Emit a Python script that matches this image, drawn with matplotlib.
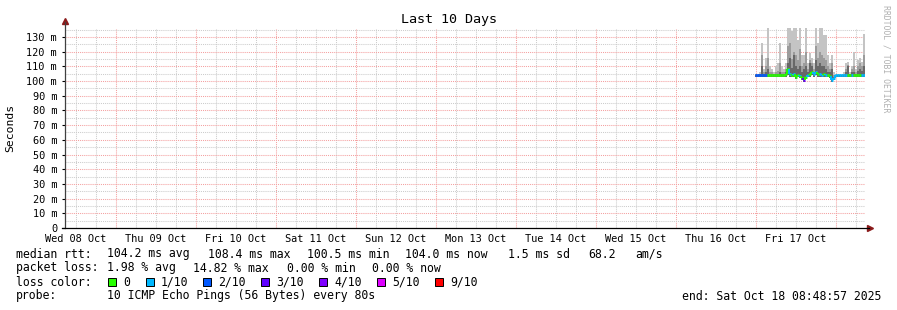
import numpy as np
import pandas as pd
import matplotlib
matplotlib.use("Agg")
import matplotlib.pyplot as plt
import matplotlib.dates as mdates
from datetime import datetime, timedelta

# ---- data (ms), one sample every 36 min starting just before Oct 17
median_ms = [104.0, 104.0, 104.2, 104.3, 104.2, 104.1, 104.0, 104.0, 104.0, 104.0,
             104.0, 104.0, 104.0, 104.0, 104.0, 104.5, 108.0, 105.0, 104.0, 104.5,
             103.0, 104.0, 103.5, 102.0, 100.5, 103.0, 104.0, 105.0, 106.0, 105.0,
             106.0, 105.0, 105.0, 104.0, 105.0, 104.0, 104.0, 103.5, 100.5, 102.0,
             104.0, 104.0, 104.0, 104.0, 104.0, 104.0, 104.0, 104.0, 104.0, 104.0,
             104.0, 104.0, 104.0, 104.0, 104.0]
loss_cnt = [2, 2, 2, 2, 2, 2, 0, 0, 0, 0, 0, 0, 0, 0, 0, 0, 0, 1, 0, 1,
            0, 0, 1, 0, 3, 0, 1, 0, 0, 1, 1, 0, 1, 1, 0, 1, 0, 0, 1, 1,
            1, 1, 1, 1, 1, 1, 0, 0, 1, 0, 0, 0, 0, 1, 1]
smoke_hi = [105, 105, 106, 126, 108, 116, 136, 110, 108, 106, 110, 112, 126, 110, 108,
            112, 136, 136, 134, 136, 136, 128, 136, 118, 118, 136, 112, 119, 116, 112,
            136, 126, 136, 136, 131, 131, 118, 112, 118, 106, 105, 105, 105, 105, 106,
            112, 113, 106, 110, 120, 108, 114, 116, 113, 132]
smoke_mid = [104.5, 104.5, 105, 118, 106, 110, 116, 106, 106, 105, 106, 107, 112, 106, 106,
             108, 124, 126, 115, 120, 118, 114, 122, 110, 112, 120, 108, 114, 112, 108,
             124, 116, 120, 118, 116, 114, 110, 108, 112, 104, 104, 104, 104, 104, 105,
             108, 111, 105, 108, 110, 106, 110, 112, 110, 118]
smoke_dark = [104, 104, 104.5, 110, 105, 106, 108, 105, 105, 104.5, 105, 105, 106, 105, 105,
              106, 112, 116, 109, 118, 110, 108, 110, 106, 108, 110, 106, 112, 110, 106,
              114, 110, 112, 110, 110, 108, 106, 106, 108, 103, 104, 104, 104, 104, 104,
              106, 110, 104.5, 106, 106, 105, 107, 108, 107, 110]
smoke_lo = [103, 103, 103, 103, 103, 103, 103, 103, 103, 103, 103, 103, 103, 103, 103,
            103, 104, 103, 102.5, 103, 101.5, 102.5, 102, 100.5, 99.5, 101.5, 102.5, 103, 104, 103,
            104, 103, 103, 102.5, 103, 102.5, 102.5, 102, 99.5, 100.5, 103, 103, 103, 103, 103,
            103, 103, 103, 103, 103, 103, 103, 103, 103, 103]

loss_labels = ["0", "1/10", "2/10", "3/10", "4/10", "5/10", "9/10"]
loss_colors = ["#26ff00", "#00b8ff", "#0059ff", "#5e00ff", "#7e00ff", "#dd00ff", "#ff0000"]
ytick_vals = list(range(0, 131, 10))
day_names = ["Wed 08 Oct", "Thu 09 Oct", "Fri 10 Oct", "Sat 11 Oct", "Sun 12 Oct",
             "Mon 13 Oct", "Tue 14 Oct", "Wed 15 Oct", "Thu 16 Oct", "Fri 17 Oct"]

end = datetime(2025, 10, 18, 8, 48, 57)
start = end - timedelta(days=10)
t_first = datetime(2025, 10, 16, 23, 42)
step = timedelta(minutes=36)
times = pd.date_range(t_first, periods=len(median_ms), freq="36min")

W, H = 897, 310
fig = plt.figure(figsize=(W / 100, H / 100), dpi=100)
fig.patch.set_facecolor("white")
ax = fig.add_axes([65.4 / W, 82 / H, 800 / W, 200 / H])
ax.set_xlim(mdates.date2num(start), mdates.date2num(end))
ax.set_ylim(0, 136.1)

mono = "DejaVu Sans Mono"

# smoke
x = mdates.date2num(times)
wd = step / timedelta(days=1)
lo = np.array(smoke_lo)
ax.bar(x, np.array(smoke_hi) - lo, bottom=lo, width=wd, align="edge", color="#c4c4c4", lw=0, zorder=2)
ax.bar(x, np.array(smoke_mid) - lo, bottom=lo, width=wd, align="edge", color="#9c9c9c", lw=0, zorder=2)
ax.bar(x, np.array(smoke_dark) - lo, bottom=lo, width=wd, align="edge", color="#686868", lw=0, zorder=2)

# median line coloured by loss
cols = [loss_colors[[0, 1, 2, 3, 4, 5, 9].index(c)] for c in loss_cnt]
ax.hlines(median_ms, x, x + wd, colors=cols, lw=2.0, zorder=4)
ax.vlines(x[1:], median_ms[:-1], median_ms[1:], colors=cols[1:], lw=1.4, zorder=4)

# grid
day0 = datetime(2025, 10, 9)
for k in range(-1, 10):
    for h in (6, 12, 18):
        ax.axvline(mdates.date2num(day0 + timedelta(days=k, hours=h)), color="#cccccc",
                   lw=0.75, ls=(0, (1, 1)), zorder=1)
    if k >= 0:
        ax.axvline(mdates.date2num(day0 + timedelta(days=k)), color="#f4a0a0",
                   lw=0.75, ls=(0, (1, 1)), zorder=1)
for v in range(5, 136, 10):
    ax.axhline(v, color="#cccccc", lw=0.75, ls=(0, (1, 1)), zorder=1)
for v in ytick_vals[1:]:
    ax.axhline(v, color="#f4a0a0", lw=0.75, ls=(0, (1, 1)), zorder=1)

for s in ax.spines.values():
    s.set_visible(False)
ax.plot([0, 0], [0, 1.03], transform=ax.transAxes, color="#404040", lw=0.9, clip_on=False, zorder=5)
ax.plot([-0.004, 1.004], [0, 0], transform=ax.transAxes, color="black", lw=0.9, clip_on=False, zorder=5)
ax.plot([0], [1.035], marker="^", ms=4, color="#8b1a1a", transform=ax.transAxes, clip_on=False)
ax.plot([1.006], [0], marker=">", ms=4, color="#8b1a1a", transform=ax.transAxes, clip_on=False)

ax.set_yticks(ytick_vals)
ax.set_yticklabels(["0"] + [f"{v} m" for v in ytick_vals[1:]], fontfamily=mono, fontsize=7.4)
noons = [mdates.date2num(datetime(2025, 10, 8, 12) + timedelta(days=k)) for k in range(10)]
ax.set_xticks(noons)
ax.set_xticklabels(day_names, fontfamily=mono, fontsize=7.4)
ax.tick_params(axis="y", length=2, pad=4)
ax.tick_params(axis="x", length=0, pad=4)
ax.set_ylabel("Seconds", fontfamily=mono, fontsize=8.2, labelpad=8)
fig.text(448.5 / W, 1 - 19 / H, "Last 10 Days", ha="center", va="center",
         fontfamily=mono, fontsize=9.6)

fig.text(886 / W, 1 - 5 / H, "RRDTOOL / TOBI OETIKER", rotation=270, ha="center", va="top",
         fontfamily=mono, fontsize=5.9, color="#b0b0b0")

def put(px, py, s, **kw):
    fig.text(px / W, 1 - py / H, s, fontfamily=mono, fontsize=8.3, va="center", **kw)

put(16, 254, "median rtt:")
for px, s in [(107, "104.2 ms avg"), (208, "108.4 ms max"), (307, "100.5 ms min"),
              (405, "104.0 ms now"), (508, "1.5 ms sd"), (588, "68.2"), (635, "am/s")]:
    put(px, 254, s)
put(16, 268, "packet loss:")
for px, s in [(107, "1.98 % avg"), (193, "14.82 % max"), (287, "0.00 % min"), (372, "0.00 % now")]:
    put(px, 268, s)
put(16, 282, "loss color:")
sq_x = [108, 146, 203, 261, 319, 377, 435]
for px, lab, c in zip(sq_x, loss_labels, loss_colors):
    fig.patches.append(plt.Rectangle((px / W, 1 - 286 / H), 8 / W, 8 / H, transform=fig.transFigure,
                                     facecolor=c, edgecolor="black", lw=0.7))
    put(px + 15, 282, lab)
put(16, 296, "probe:")
put(107, 296, "10 ICMP Echo Pings (56 Bytes) every 80s")
put(881, 296, "end: Sat Oct 18 08:48:57 2025", ha="right")

fig.savefig("out.png", dpi=100, facecolor="white")
